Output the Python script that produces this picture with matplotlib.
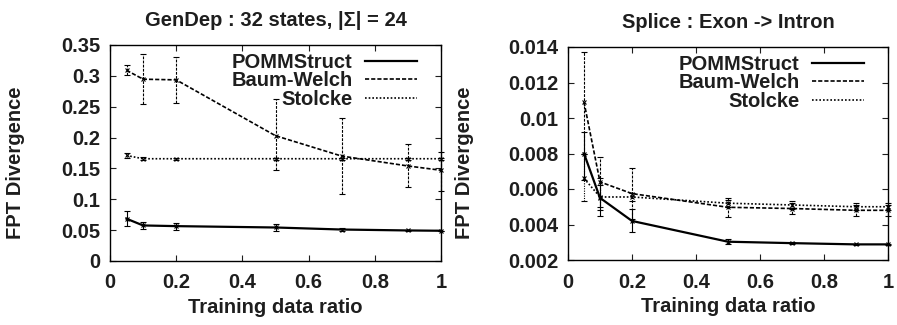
import matplotlib
matplotlib.use('Agg')
import matplotlib.pyplot as plt
from matplotlib.lines import Line2D
import numpy as np

ratios = [0.05, 0.1, 0.2, 0.5, 0.7, 0.9, 1.0]

# GenDep : 32 states
gendep_pomm = [0.0685, 0.0576, 0.0565, 0.0543, 0.051, 0.0495, 0.049]
gendep_pomm_lo = [0.056, 0.052, 0.051, 0.048, 0.048, 0.0485, 0.049]
gendep_pomm_hi = [0.081, 0.0636, 0.062, 0.060, 0.054, 0.0505, 0.049]
gendep_bw = [0.309, 0.2946, 0.2935, 0.203, 0.170, 0.154, 0.147]
gendep_bw_lo = [0.301, 0.255, 0.256, 0.147, 0.108, 0.120, 0.113]
gendep_bw_hi = [0.317, 0.335, 0.331, 0.263, 0.232, 0.189, 0.177]
gendep_st = [0.171, 0.1657, 0.1657, 0.1657, 0.1657, 0.1657, 0.1657]
gendep_st_lo = [0.167, 0.163, 0.164, 0.164, 0.164, 0.164, 0.164]
gendep_st_hi = [0.175, 0.168, 0.167, 0.167, 0.167, 0.167, 0.167]

# Splice : Exon -> Intron
splice_pomm = [0.0080, 0.0055, 0.0042, 0.00303, 0.00295, 0.00288, 0.00288]
splice_pomm_lo = [0.0065, 0.0045, 0.0036, 0.00288, 0.00288, 0.00285, 0.00285]
splice_pomm_hi = [0.0092, 0.0066, 0.0049, 0.00318, 0.00302, 0.00291, 0.00291]
splice_bw = [0.0109, 0.0064, 0.00574, 0.00497, 0.0049, 0.0048, 0.0048]
splice_bw_lo = [0.0080, 0.0050, 0.0043, 0.0044, 0.0046, 0.0045, 0.0045]
splice_bw_hi = [0.0137, 0.0078, 0.0072, 0.0055, 0.0052, 0.0051, 0.0051]
splice_st = [0.0066, 0.00555, 0.00555, 0.0052, 0.0051, 0.0050, 0.0050]
splice_st_lo = [0.0053, 0.0048, 0.0053, 0.0050, 0.0049, 0.0048, 0.0048]
splice_st_hi = [0.0080, 0.0062, 0.0058, 0.0054, 0.0053, 0.0052, 0.0052]

labels = ['POMMStruct', 'Baum-Welch', 'Stolcke']
STYLES = ['-', (0, (2.5, 1.2)), (0, (1, 1.2))]
WIDTHS = [1.6, 1.2, 1.2]
INK = '#1e1e1e'
FS = 14.5
W, H = 897, 325

plt.rcParams['font.family'] = ['Liberation Sans', 'DejaVu Sans']
plt.rcParams['font.weight'] = 'bold'
plt.rcParams['font.size'] = FS
plt.rcParams['text.color'] = INK
plt.rcParams['axes.labelcolor'] = INK
plt.rcParams['xtick.color'] = INK
plt.rcParams['ytick.color'] = INK


def panel(ax, series, title, ylim, yticks, yfmt, label_x):
  for i, (vals, lo, hi) in enumerate(series):
    vals, lo, hi = np.array(vals), np.array(lo), np.array(hi)
    yerr = np.stack([vals - lo, hi - vals])
    line, caps, bars = ax.errorbar(
        ratios, vals, yerr=yerr, color='black', ls=STYLES[i], lw=WIDTHS[i],
        elinewidth=0.8, capsize=2.5, capthick=0.8, marker='x', ms=3,
        mew=0.8, clip_on=False, zorder=3 - i)
    for b in bars:
      b.set_linestyle(STYLES[i] if i else '-')
  ax.set_xlim(0, 1)
  ax.set_ylim(*ylim)
  ax.set_xticks(np.arange(0, 1.01, 0.2))
  ax.set_xticklabels(['0', '0.2', '0.4', '0.6', '0.8', '1'])
  ax.set_yticks(yticks)
  ax.set_yticklabels([yfmt(v) for v in yticks])
  ax.tick_params(direction='in', top=True, right=True, length=4, width=0.8,
                 labelsize=FS)
  ax.tick_params(axis='x', pad=9)
  ax.tick_params(axis='y', pad=7)
  for s in ax.spines.values():
    s.set_linewidth(1.0)
  ax.set_title(title, fontsize=FS, fontweight='bold', pad=14)
  ax.set_xlabel('Training data ratio', fontsize=FS, fontweight='bold',
                labelpad=4)
  ax.set_ylabel('FPT Divergence', fontsize=FS, fontweight='bold')
  ax.yaxis.set_label_coords(label_x / W, 0.5, transform=fig.transFigure)
  bb = ax.get_position()
  wpx, hpx = bb.width * W, bb.height * H
  handles = [Line2D([], [], color='black', ls=STYLES[i], lw=WIDTHS[i])
             for i in range(3)]
  ax.legend(handles, labels, loc='upper right', frameon=False,
            markerfirst=False, handlelength=2.6, handletextpad=0.6,
            labelspacing=-0.03, borderaxespad=0, borderpad=0,
            bbox_to_anchor=(1 - 24 / wpx, 1 - 8 / hpx),
            prop=dict(weight='bold', size=FS))


fig = plt.figure(figsize=(W / 100, H / 100), dpi=100)
ax1 = fig.add_axes([110 / W, 64 / H, 331 / W, 216 / H])
ax2 = fig.add_axes([568 / W, 65 / H, 320 / W, 213 / H])

panel(ax1, [(gendep_pomm, gendep_pomm_lo, gendep_pomm_hi),
            (gendep_bw, gendep_bw_lo, gendep_bw_hi),
            (gendep_st, gendep_st_lo, gendep_st_hi)],
      'GenDep : 32 states, |\u03a3| = 24', (0, 0.35),
      np.arange(0, 0.351, 0.05), lambda v: '0' if v == 0 else f'{v:g}', 25)
panel(ax2, [(splice_pomm, splice_pomm_lo, splice_pomm_hi),
            (splice_bw, splice_bw_lo, splice_bw_hi),
            (splice_st, splice_st_lo, splice_st_hi)],
      'Splice : Exon -> Intron', (0.002, 0.014),
      np.arange(0.002, 0.0141, 0.002), lambda v: f'{v:g}', 474)

fig.savefig('out.png', dpi=100)
